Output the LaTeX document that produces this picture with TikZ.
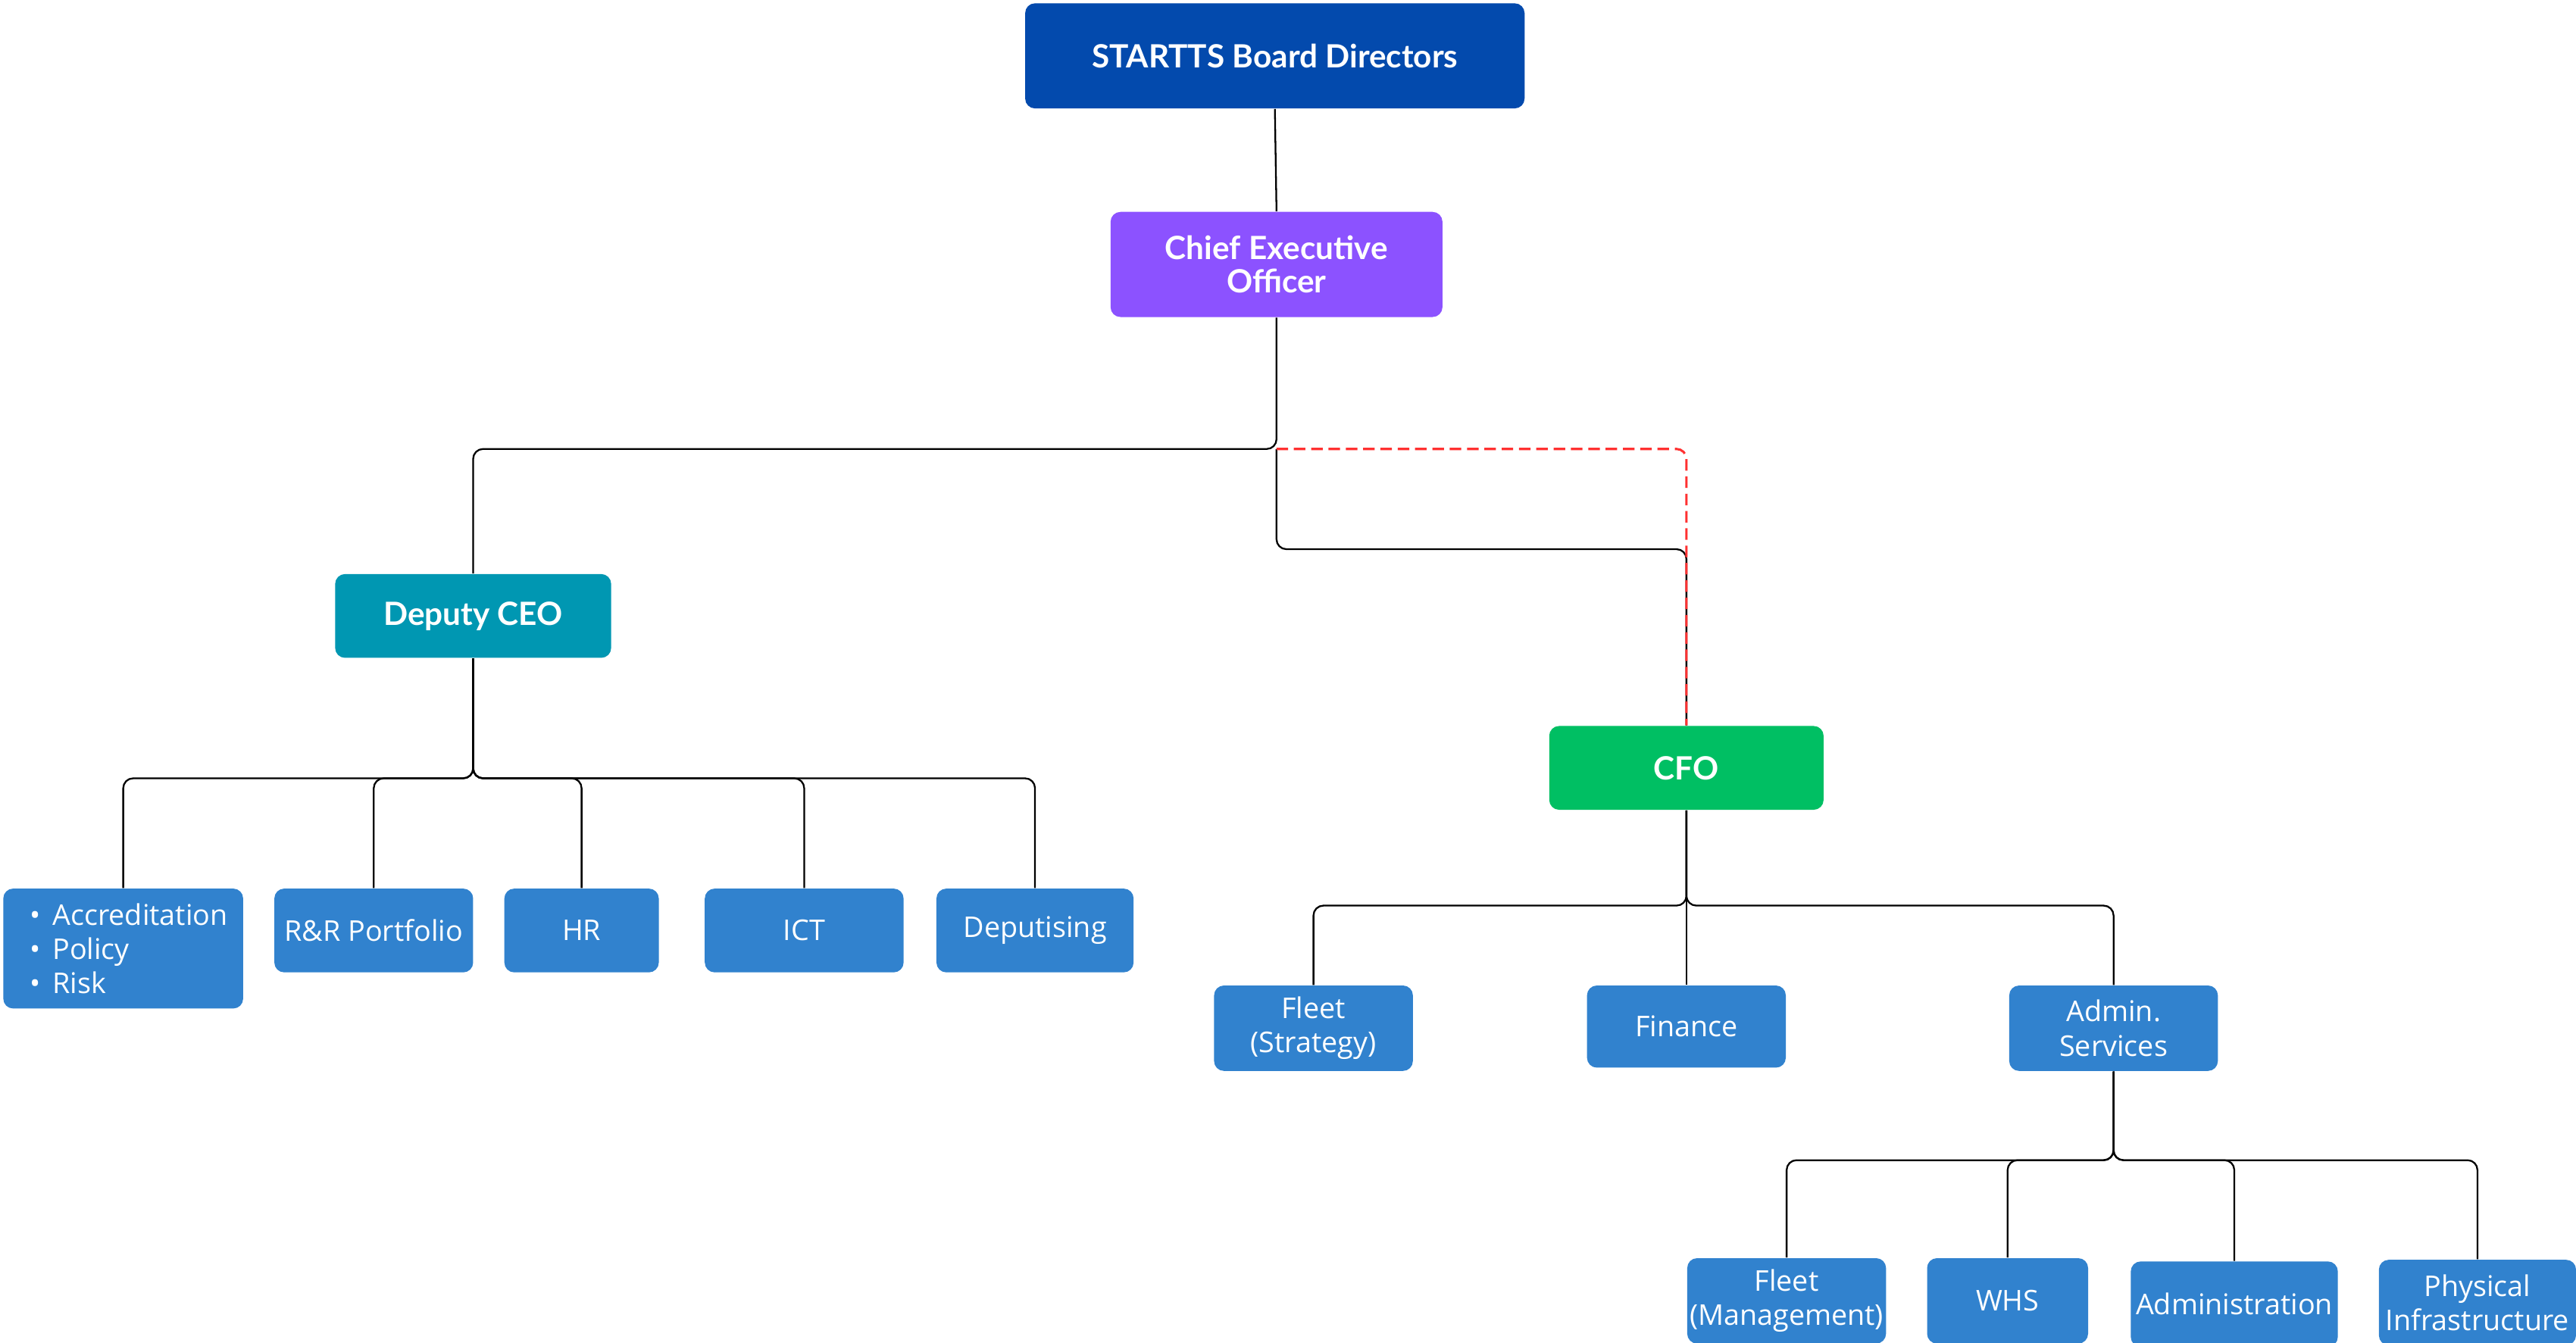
\documentclass[tikz,border=0pt]{standalone}
\usepackage{fontspec}
\setmainfont{Open Sans}
\newfontfamily\headfont{Lato}
\usepackage{xcolor}
\definecolor{boardblue}{HTML}{034AAD}
\definecolor{ceopurple}{HTML}{8C52FF}
\definecolor{depteal}{HTML}{0097B2}
\definecolor{cfogreen}{HTML}{00BF63}
\definecolor{unitblue}{HTML}{3182CE}
\definecolor{dotred}{HTML}{FF3131}
\newcommand{\bulletitem}[1]{\hspace*{4pt}\textbullet\hspace{4pt}#1}

\begin{document}
\begin{tikzpicture}[x=0.02cm,y=-0.02cm,
    boxsize/.style 2 args={minimum width={#1*0.02cm}, minimum height={#2*0.02cm}},
    head/.style={rounded corners=0.12cm, text=white, inner sep=0pt, align=center,
        font=\headfont\bfseries\fontsize{11.1}{11.6}\selectfont},
    unit/.style={rounded corners=0.12cm, fill=unitblue, text=white, inner sep=0pt, align=center,
        font=\fontsize{9.9}{11.9}\selectfont},
    link/.style={draw=black, line width=0.6pt, rounded corners=0.12cm},
    dashlink/.style={draw=dotred, line width=0.8pt, dash pattern=on 4pt off 2pt, rounded corners=0.12cm}]
    \useasboundingbox (0,0) rectangle (1568,817.2);

    % top of the chart
    \node[head, fill=boardblue, boxsize={304}{64}] (board) at (776,34) {STARTTS Board Directors};
    \node[head, fill=ceopurple, boxsize={202}{64}] (ceo) at (777,161) {Chief Executive\\Officer};
    \node[head, fill=depteal, boxsize={168}{51}] (dep) at (288,375) {Deputy CEO};
    \node[head, fill=cfogreen, boxsize={167}{51}] (cfo) at (1026.5,467.5) {CFO};

    % deputy CEO units
    \node[unit, boxsize={146}{73}, align=left] (acc) at (75,577.5)
        {\bulletitem{Accreditation}\\\bulletitem{Policy}\\\bulletitem{Risk}};
    \node[unit, boxsize={121}{51}] (rr) at (227.5,566.5) {R\&R Portfolio};
    \node[unit, boxsize={94}{51}] (hr) at (354,566.5) {HR};
    \node[unit, boxsize={121}{51}] (ict) at (489.5,566.5) {ICT};
    \node[unit, boxsize={120}{51}] (depu) at (630,566.5) {Deputising};

    % CFO units
    \node[unit, boxsize={121}{52}] (fleets) at (799.5,626) {Fleet\\(Strategy)};
    \node[unit, boxsize={121}{50}] (fin) at (1026.5,625) {Finance};
    \node[unit, boxsize={127}{52}] (adm) at (1286.5,626) {Admin.\\Services};

    % admin services units
    \node[unit, boxsize={121}{52}] (fleetm) at (1087.5,792) {Fleet\\(Management)};
    \node[unit, boxsize={98}{52}] (whs) at (1222,792) {WHS};
    \node[unit, boxsize={126}{52}] (admn) at (1360,794) {Administration};
    \node[unit, boxsize={120}{52}] (phys) at (1508,793) {Physical\\Infrastructure};

    % connectors
    \draw[link] (board.south) -- (ceo.north);
    \path (ceo.south) ++(0,80) coordinate (ceoknee);
    \draw[link] (ceo.south) -- (ceoknee) -| (dep.north);
    \draw[link] (ceoknee) -- ++(0,61) -| (cfo.north);
    \draw[dashlink] (ceoknee) -| (cfo.north);
    \foreach \u in {acc,rr,hr,ict,depu}
        \draw[link] (dep.south) -- ++(0,73) -| (\u.north);
    \foreach \u in {fleets,fin,adm}
        \draw[link] (cfo.south) -- ++(0,58) -| (\u.north);
    \foreach \u in {fleetm,whs,admn,phys}
        \draw[link] (adm.south) -- ++(0,54) -| (\u.north);
\end{tikzpicture}
\end{document}
